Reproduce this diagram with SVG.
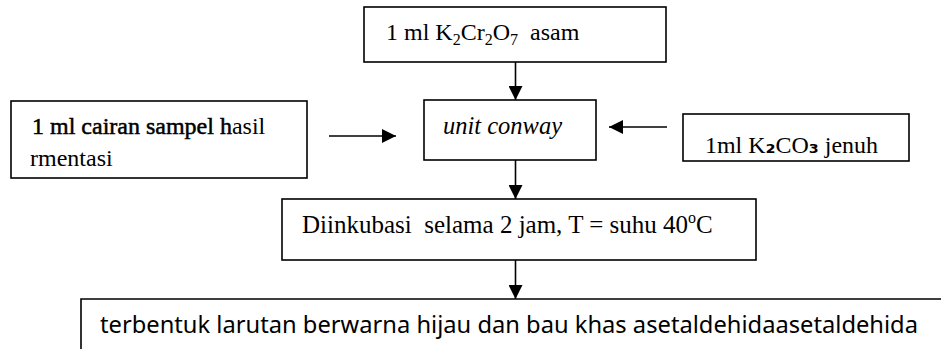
<svg xmlns="http://www.w3.org/2000/svg" width="941" height="349" viewBox="0 0 941 349">
  <style>
    .box { fill: #ffffff; stroke: #000000; stroke-width: 1.6; }
    .edge { fill: none; stroke: #000000; stroke-width: 1.6; }
    .serif { font-family: "Liberation Serif", "Times New Roman", serif; fill: #000000; }
    .sans { font-family: "Noto Sans", "Liberation Sans", sans-serif; fill: #000000; }
  </style>
  <defs>
    <marker id="arrow" viewBox="0 0 14 14" refX="14" refY="7" markerWidth="14" markerHeight="14" markerUnits="userSpaceOnUse" orient="auto">
      <path d="M0,0 L14,7 L0,14 Z" fill="#000000"/>
    </marker>
  </defs>

  <rect width="941" height="349" fill="#ffffff"/>

  <!-- connectors -->
  <g id="connectors">
    <line class="edge" x1="515.5" y1="62" x2="515.5" y2="100" marker-end="url(#arrow)"/>
    <line class="edge" x1="329" y1="136" x2="396" y2="136" marker-end="url(#arrow)"/>
    <line class="edge" x1="667" y1="127" x2="609" y2="127" marker-end="url(#arrow)"/>
    <line class="edge" x1="515.5" y1="160" x2="515.5" y2="199" marker-end="url(#arrow)"/>
    <line class="edge" x1="515.5" y1="260" x2="515.5" y2="299" marker-end="url(#arrow)"/>
  </g>

  <!-- acidified dichromate input -->
  <g id="dichromate">
    <rect class="box" x="364" y="7" width="302" height="55"/>
    <text class="serif" x="386" y="40" font-size="24" xml:space="preserve">1 ml K<tspan font-size="16" dy="5">2</tspan><tspan dy="-5">Cr</tspan><tspan font-size="16" dy="5">2</tspan><tspan dy="-5">O</tspan><tspan font-size="16" dy="5">7</tspan><tspan dy="-5">  asam</tspan></text>
  </g>

  <!-- fermentation sample input -->
  <g id="sample">
    <rect class="box" x="11" y="101" width="296" height="77"/>
    <text class="serif" x="32" y="134" font-size="24"><tspan stroke="#000000" stroke-width="0.5">1 ml cairan sampel h</tspan>asil</text>
    <text class="serif" x="30" y="166" font-size="24">rmentasi</text>
  </g>

  <!-- Conway unit -->
  <g id="conway">
    <rect class="box" x="424" y="100" width="172" height="60"/>
    <text class="serif" x="443" y="134" font-size="24.5" font-style="italic">unit conway</text>
  </g>

  <!-- saturated potassium carbonate input -->
  <g id="carbonate">
    <rect class="box" x="683" y="114" width="226" height="47"/>
    <text class="serif" x="705" y="153" font-size="23" textLength="173" lengthAdjust="spacingAndGlyphs">1ml K<tspan font-family="DejaVu Sans" font-weight="bold" font-size="22">₂</tspan>CO<tspan font-family="DejaVu Sans" font-weight="bold" font-size="22">₃</tspan> jenuh</text>
  </g>

  <!-- incubation step -->
  <g id="incubation">
    <rect class="box" x="282" y="199" width="474" height="61"/>
    <text class="serif" x="302" y="233" font-size="25" xml:space="preserve">Diinkubasi  selama 2 jam, T = suhu 40<tspan font-size="16" dy="-10">o</tspan><tspan dy="10">C</tspan></text>
  </g>

  <!-- result -->
  <g id="result">
    <path class="edge" d="M81,349 L81,299 L941,299"/>
    <text class="sans" x="100" y="333" font-size="24" textLength="818" lengthAdjust="spacingAndGlyphs">terbentuk larutan berwarna hijau dan bau khas asetaldehidaasetaldehida</text>
  </g>
</svg>
